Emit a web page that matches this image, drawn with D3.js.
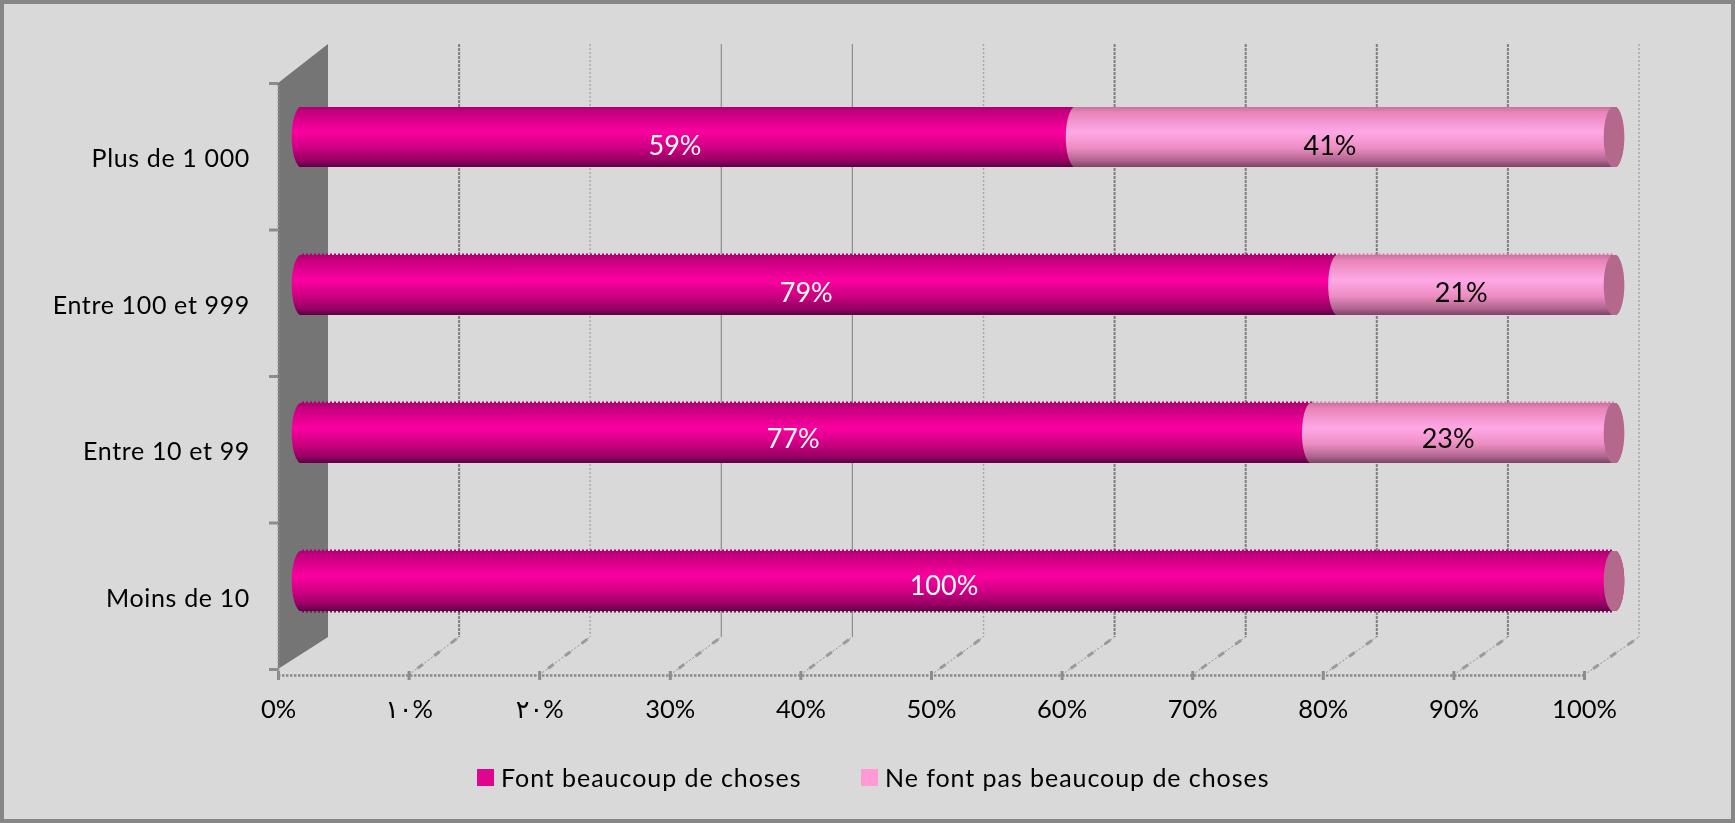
<!DOCTYPE html>
<html>
<head>
<meta charset="utf-8">
<script src="https://cdnjs.cloudflare.com/ajax/libs/d3/7.8.5/d3.min.js"></script>
<style>
  html, body { margin: 0; padding: 0; background: #d9d9d9; }
  svg { display: block; filter: blur(0.45px); }
  text { font-family: Lato, "Open Sans", sans-serif; }
</style>
</head>
<body>
<svg id="chart" width="1735" height="823"></svg>
<script>
// chart values
let categories = ["Moins de 10", "Entre 10 et 99", "Entre 100 et 999", "Plus de 1 000"];
let beaucoup = [100, 77, 79, 59];
let pasBeaucoup = [0, 23, 21, 41];
let seriesNames = ["Font beaucoup de choses", "Ne font pas beaucoup de choses"];
let tickValues = [0, 10, 20, 30, 40, 50, 60, 70, 80, 90, 100];
let tickLabels = ["0%", "١٠%", "٢٠%", "30%", "40%", "50%", "60%", "70%", "80%", "90%", "100%"];
let faintGrid = [20, 50, 100];
let solidGrid = [30, 40];

const svg = d3.select("svg#chart");
const width = 1735, height = 823;

const floorY = 675, wallBottom = 637, wallTop = 44, frontTop = 83;

// front edge of the floor, back wall, and the bars themselves sit on three x ranges
const xFront = d3.scaleLinear().domain([0, 100]).range([278, 1584]);
const xBack = d3.scaleLinear().domain([0, 100]).range([328, 1639]);
const xBar = d3.scaleLinear().domain([0, 100]).range([302, 1614]);

const yCat = d3.scaleBand().domain(categories).range([669, frontTop]);
const yBar = d3.scaleBand().domain(categories).range([655, 63])
  .paddingInner(0.595).paddingOuter(0.2975);
// value labels drift a little from the bar centres in the original
const yLabel = d3.scalePoint().domain(categories).range([595, 155]);
const yTicks = d3.scaleLinear().domain([0, categories.length]).range([669, frontTop]);

const defs = svg.append("defs");
function gradient(id, stops) {
  let g = defs.append("linearGradient").attr("id", id)
    .attr("x1", 0).attr("x2", 0).attr("y1", 0).attr("y2", 1);
  for (let s of stops) {
    g.append("stop").attr("offset", s[0]).attr("stop-color", s[1]);
  }
}
gradient("dark", [[0, "#a9006f"], [0.1, "#c7007f"], [0.42, "#fb00a0"], [0.7, "#c8007f"], [0.88, "#960063"], [1, "#560040"]]);
gradient("light", [[0, "#c66f9c"], [0.1, "#e884b8"], [0.42, "#ffa8e6"], [0.68, "#ec8dc2"], [0.88, "#b0648f"], [1, "#74405f"]]);

// background and border
svg.append("rect")
  .attr("x", 2).attr("y", 2)
  .attr("width", width - 4).attr("height", height - 4)
  .attr("fill", "#d9d9d9")
  .attr("stroke", "#868686")
  .attr("stroke-width", 4);

// left wall
svg.append("path")
  .attr("d", `M${xFront(0)},${frontTop} L${xBack(0)},${wallTop} L${xBack(0)},${wallBottom} L${xFront(0)},${floorY - 6} Z`)
  .attr("fill", "#757575");

// back gridlines
let grid = svg.append("g");
for (let v of tickValues.slice(1)) {
  let faint = faintGrid.includes(v);
  let solid = solidGrid.includes(v);
  grid.append("line")
    .attr("x1", xBack(v)).attr("x2", xBack(v))
    .attr("y1", wallTop).attr("y2", wallBottom)
    .attr("stroke", faint ? "#a8a8a8" : (solid ? "#8e8e8e" : "#7f7f7f"))
    .attr("stroke-width", faint ? 1.5 : (solid ? 1.2 : 2))
    .attr("stroke-dasharray", faint ? "2 2" : (solid ? null : "3 1"));
  // floor diagonals
  grid.append("line")
    .attr("x1", xFront(v)).attr("x2", xBack(v))
    .attr("y1", floorY).attr("y2", wallBottom)
    .attr("stroke", "#8f8f8f")
    .attr("stroke-width", 1)
    .attr("stroke-dasharray", "2 2");
  grid.append("line")
    .attr("x1", xFront(v)).attr("x2", xBack(v))
    .attr("y1", floorY).attr("y2", wallBottom)
    .attr("stroke", "#9a9a9a")
    .attr("stroke-width", 3)
    .attr("stroke-dasharray", "7 14")
    .attr("stroke-dashoffset", -11);
}

// bottom axis
let xAxis = d3.axisBottom(xFront)
  .tickValues(tickValues)
  .tickFormat((d, i) => tickLabels[i])
  .tickSize(5)
  .tickPadding(20);
let gx = svg.append("g").attr("transform", `translate(0,${floorY})`).call(xAxis);
gx.select(".domain").attr("stroke", "#8c8c8c").attr("stroke-width", 2.5).attr("stroke-dasharray", "2.5 1.5");
gx.selectAll(".tick line").attr("stroke", "#8c8c8c").attr("stroke-width", 3).attr("y1", -4);
gx.selectAll(".tick text").attr("font-size", 25.5).attr("fill", "#000")
  .style("font-family", "Lato, 'DejaVu Sans', sans-serif");

// left axis ticks
let yAxis = d3.axisLeft(yTicks).ticks(categories.length).tickFormat("").tickSize(9);
let gy = svg.append("g").attr("transform", `translate(${xFront(0)},0)`).call(yAxis);
gy.select(".domain").attr("stroke", "#8c8c8c").attr("stroke-width", 2).attr("stroke-dasharray", "2 2");
gy.selectAll(".tick line").attr("stroke", "#8c8c8c").attr("stroke-width", 3);

// category labels
svg.append("g").selectAll("text").data(categories).join("text")
  .attr("x", 250)
  .attr("y", d => yCat(d) + yCat.bandwidth() / 2 + 11)
  .attr("text-anchor", "end")
  .attr("font-size", 25)
  .attr("letter-spacing", 0.65)
  .attr("fill", "#000")
  .text(d => d);

// cylinder segment: both ends bulge left, slightly slanted
const rx = 10, slant = 2.5;
function cylinder(x0, x1, top, bot) {
  let ry = (bot - top) / 2;
  return `M${x0 + slant},${top} L${x1 + slant},${top} A${rx},${ry} 0 0 1 ${x1 - slant},${bot}` +
    ` L${x0 - slant},${bot} A${rx},${ry} 0 0 1 ${x0 + slant},${top} Z`;
}
function endCap(x, top, bot) {
  let ry = (bot - top) / 2;
  return `M${x + slant},${top} A${rx},${ry} 0 0 1 ${x - slant},${bot} A${rx},${ry} 0 0 1 ${x + slant},${top} Z`;
}

let bars = svg.append("g");
categories.forEach(function (c, i) {
  let top = yBar(c), bot = top + yBar.bandwidth();
  let split = beaucoup[i];
  let total = split + pasBeaucoup[i];

  // dotted fringe on the top edge, lower bars only
  if (i < 3) {
    bars.append("line")
      .attr("x1", xBar(0)).attr("x2", xBar(split))
      .attr("y1", top - 0.5).attr("y2", top - 0.5)
      .attr("stroke", "#b0006f").attr("stroke-width", 2).attr("stroke-dasharray", "2 2");
    if (pasBeaucoup[i] > 0) {
      bars.append("line")
        .attr("x1", xBar(split)).attr("x2", xBar(total))
        .attr("y1", top - 0.5).attr("y2", top - 0.5)
        .attr("stroke", "#d878aa").attr("stroke-width", 2).attr("stroke-dasharray", "2 2");
    }
  }
  if (i === 0) {
    bars.append("line")
      .attr("x1", xBar(0)).attr("x2", xBar(split))
      .attr("y1", bot + 0.5).attr("y2", bot + 0.5)
      .attr("stroke", "#8a0060").attr("stroke-width", 2).attr("stroke-dasharray", "2 2");
  }

  // the slanted arcs overshoot the bar a little, so clip them to its height
  defs.append("clipPath").attr("id", "bar" + i)
    .append("rect")
    .attr("x", 0).attr("y", top)
    .attr("width", width).attr("height", bot - top);
  let cyl = bars.append("g").attr("clip-path", `url(#bar${i})`);

  cyl.append("path").attr("d", cylinder(xBar(0), xBar(split), top, bot)).attr("fill", "url(#dark)");
  if (pasBeaucoup[i] > 0) {
    cyl.append("path").attr("d", cylinder(xBar(split), xBar(total), top, bot)).attr("fill", "url(#light)");
  }
  cyl.append("path").attr("d", endCap(xBar(total), top, bot)).attr("fill", "#b3688c");

  // value labels
  bars.append("text")
    .attr("x", (xBar(0) + xBar(split)) / 2 - 14)
    .attr("y", yLabel(c))
    .attr("text-anchor", "middle")
    .attr("font-size", 27)
    .attr("fill", "#fff")
    .text(split + "%");
  if (pasBeaucoup[i] > 0) {
    bars.append("text")
      .attr("x", (xBar(split) + xBar(total)) / 2 - 15)
      .attr("y", yLabel(c))
      .attr("text-anchor", "middle")
      .attr("font-size", 27)
      .attr("fill", "#000")
      .text(pasBeaucoup[i] + "%");
  }
});

// legend
let legendX = [477, 861];
let legendColor = ["#e0058f", "#ff9ad5"];
seriesNames.forEach(function (name, i) {
  svg.append("rect")
    .attr("x", legendX[i]).attr("y", 769)
    .attr("width", 17).attr("height", 17)
    .attr("fill", legendColor[i]);
  svg.append("text")
    .attr("x", legendX[i] + 24).attr("y", 787)
    .attr("font-size", 25)
    .attr("letter-spacing", 0.95)
    .attr("fill", "#000")
    .text(name);
});
</script>
</body>
</html>
